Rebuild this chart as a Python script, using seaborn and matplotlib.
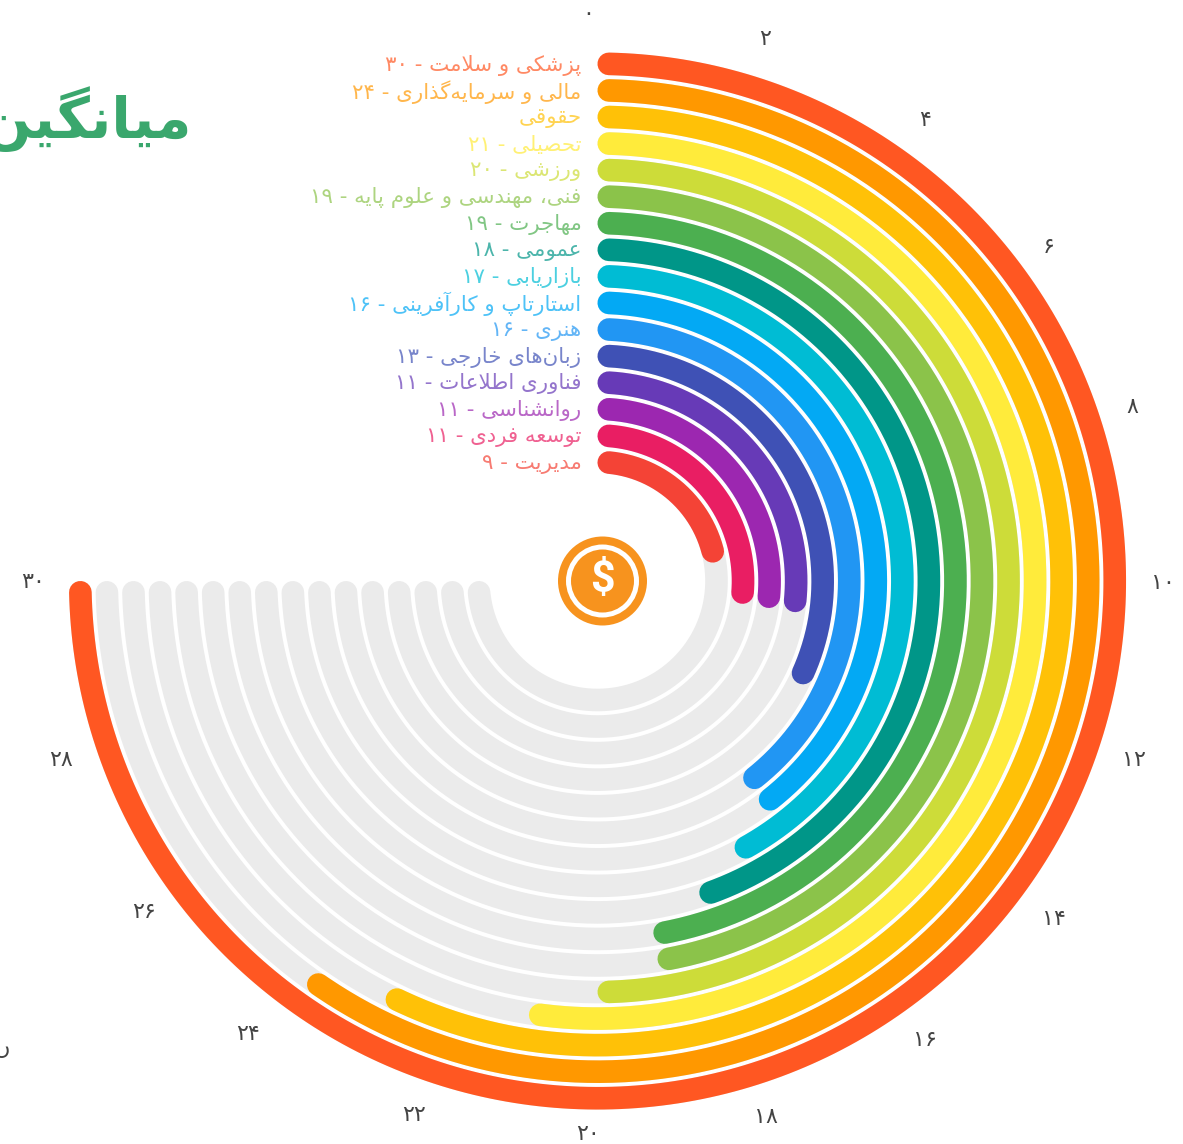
import matplotlib
matplotlib.use("Agg")

import matplotlib.pyplot as plt
import numpy as np
import pandas as pd
import seaborn as sns
from matplotlib.patches import Circle
from matplotlib.transforms import IdentityTransform

# Data, outermost ring first
categories = ["پزشکی و سلامت", "مالی و سرمایه‌گذاری", "حقوقی", "تحصیلی", "ورزشی",
              "فنی، مهندسی و علوم پایه", "مهاجرت", "عمومی", "بازاریابی",
              "استارتاپ و کارآفرینی", "هنری", "زبان‌های خارجی", "فناوری اطلاعات",
              "روانشناسی", "توسعه فردی", "مدیریت"]
values = [30, 24, 23, 21, 20, 19, 19, 18, 17, 16, 16, 13, 11, 11, 11, 9]
# the third ring has no number in its label
shown_values = [30, 24, None, 21, 20, 19, 19, 18, 17, 16, 16, 13, 11, 11, 11, 9]
colors = ["#FF5722", "#FF9800", "#FFC107", "#FFEB3B", "#CDDC39", "#8BC34A", "#4CAF50", "#009688",
          "#00BCD4", "#03A9F4", "#2196F3", "#3F51B5", "#673AB7", "#9C27B0", "#E91E63", "#F44336"]
tick_values = list(range(0, 31, 2))
title = "میانگین"

# Pixel nudges for the angle labels
tick_nudge = [(-9.5, 7), (-5.5, 9), (-2, 8), (-1.5, 5), (2, 1), (5, -2), (4, -6), (3.5, -9),
              (-2, -6), (-4.5, -3.5), (-9.5, 7), (-10.5, -1.5), (-20, 0), (-0.5, -2), (-4, -6), (-4.5, -1)]

W, H = 1183, 1144
CX, CY = 597.5, 581
RMAX = 540
RING_IN, RING_STEP, RING_W = 119, 26.55, 22.6
TRACK_COLOR = "#EBEBEB"

# matplotlib does no Arabic shaping, so pick the presentation forms by hand
DUAL = {"ب": 0xFE8F, "پ": 0xFB56, "ت": 0xFE95, "ث": 0xFE99, "ج": 0xFE9D, "چ": 0xFB7A, "ح": 0xFEA1,
        "خ": 0xFEA5, "س": 0xFEB1, "ش": 0xFEB5, "ص": 0xFEB9, "ض": 0xFEBD, "ط": 0xFEC1, "ظ": 0xFEC5,
        "ع": 0xFEC9, "غ": 0xFECD, "ف": 0xFED1, "ق": 0xFED5, "ک": 0xFB8E, "گ": 0xFB92, "ل": 0xFEDD,
        "م": 0xFEE1, "ن": 0xFEE5, "ه": 0xFEE9, "ی": 0xFBFC}
RIGHT = {"ا": 0xFE8D, "آ": 0xFE81, "د": 0xFEA9, "ذ": 0xFEAB, "ر": 0xFEAD, "ز": 0xFEAF, "ژ": 0xFB8A, "و": 0xFEED}
PERSIAN_DIGITS = "۰۱۲۳۴۵۶۷۸۹"


def fa(text):
    out = []
    i = 0
    prev_joins = False
    while i < len(text):
        ch = text[i]
        nxt = text[i + 1] if i + 1 < len(text) else ""
        if ch == "ل" and nxt == "ا":
            out.append(chr(0xFEFC if prev_joins else 0xFEFB))
            prev_joins = False
            i += 2
            continue
        if ch in DUAL:
            joins_next = nxt in DUAL or nxt in RIGHT
            form = (1 if prev_joins else 0) if not joins_next else (3 if prev_joins else 2)
            out.append(chr(DUAL[ch] + form))
            prev_joins = joins_next
        elif ch in RIGHT:
            out.append(chr(RIGHT[ch] + (1 if prev_joins else 0)))
            prev_joins = False
        else:
            if ch != "\u200c":
                out.append(ch)
            prev_joins = False
        i += 1
    # draw order is left to right: flip everything, then put number runs back
    out = out[::-1]
    fixed = []
    run = []
    for ch in out:
        if ch in PERSIAN_DIGITS:
            run.append(ch)
        else:
            fixed.extend(run[::-1])
            run = []
            fixed.append(ch)
    fixed.extend(run[::-1])
    return "".join(fixed)


def fa_num(n):
    return "".join(PERSIAN_DIGITS[int(c)] for c in str(n))


def arc(value, r):
    # the round cap stays inside the value's sector
    pad = (RING_W / 2) / r
    theta = np.linspace(pad, np.deg2rad(value * 9) - pad, 300)
    return pd.DataFrame({"theta": theta, "r": r})


sns.set_theme(style="white")
plt.rcParams["font.family"] = ["DejaVu Sans"]

fig = plt.figure(figsize=(W / 100, H / 100), dpi=100)
ax = fig.add_axes([(CX - RMAX) / W, (H - CY - RMAX) / H, 2 * RMAX / W, 2 * RMAX / H], projection="polar")
ax.set_theta_zero_location("N")
ax.set_theta_direction(-1)

lw = RING_W * 0.72
n = len(values)
for i in range(n):
    r = RING_IN + RING_STEP * (n - 1 - i)
    sns.lineplot(data=arc(tick_values[-1], r), x="theta", y="r", ax=ax, sort=False, estimator=None,
                 color=TRACK_COLOR, linewidth=lw, solid_capstyle="round", legend=False)
for i in range(n):
    r = RING_IN + RING_STEP * (n - 1 - i)
    sns.lineplot(data=arc(values[i], r), x="theta", y="r", ax=ax, sort=False, estimator=None,
                 color=colors[i], linewidth=lw, solid_capstyle="round", legend=False)
    label = categories[i]
    if shown_values[i] is not None:
        label = label + " - " + fa_num(shown_values[i])
    ax.annotate(fa(label), xy=(0, r), xytext=(-16, -1.5), textcoords="offset pixels", ha="right", va="center",
                color=colors[i], alpha=0.7, fontsize=15.4)

for v, (dx, dy) in zip(tick_values, tick_nudge):
    ax.annotate(fa(fa_num(v)), xy=(np.deg2rad(v * 9), 560), xytext=(dx, dy), textcoords="offset pixels",
                ha="center", va="center", color="#444444", fontsize=16, annotation_clip=False)

ax.set_rlim(0, RMAX)
ax.set_axis_off()

# Coin in the middle, sits a little right of the rings' centre
px = IdentityTransform()
coin_x, coin_y = 602.5, H - 581
fig.add_artist(Circle((coin_x, coin_y), 44.5, transform=px, facecolor="#F7931E", edgecolor="none"))
fig.add_artist(Circle((coin_x, coin_y), 36.5, transform=px, facecolor="white", edgecolor="none"))
fig.add_artist(Circle((coin_x, coin_y), 31.5, transform=px, facecolor="#F7931E", edgecolor="none"))
fig.text(coin_x, coin_y, "$", transform=px, ha="center", va="center", color="white",
         fontsize=31, fontweight="bold", family="Roboto")

fig.text(192, H - 138, fa(title), transform=px, ha="right", va="baseline", color="#3AA76D",
         fontsize=41, fontweight="bold")
# Bit of another clipped label at the left edge
fig.text(10, H - 1054, "\u06ba", transform=px, ha="right", va="baseline", color="#444444", fontsize=16)

fig.savefig("out.png", dpi=100)
